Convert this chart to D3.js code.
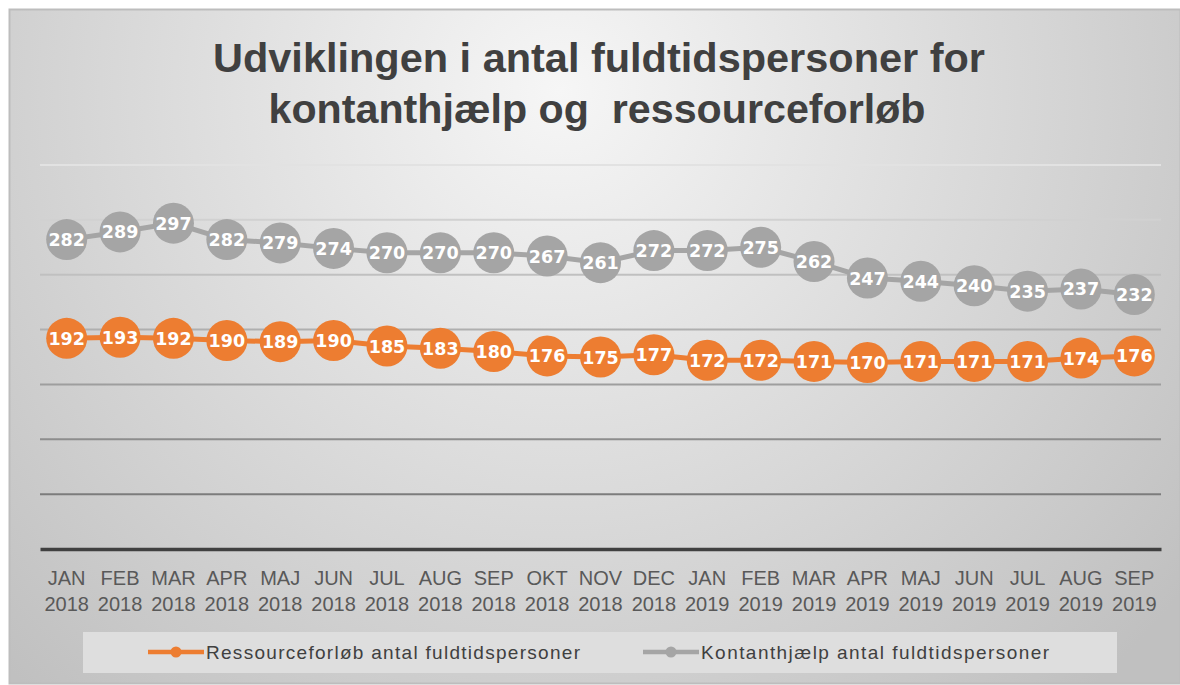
<!DOCTYPE html>
<html>
<head>
<meta charset="utf-8">
<script src="https://cdn.jsdelivr.net/npm/d3@7"></script>
<style>
  body { margin: 0; background: #fff; }
  text { white-space: pre; }
</style>
</head>
<body>
<div id="chart"></div>
<script>
// data
var months = ["JAN","FEB","MAR","APR","MAJ","JUN","JUL","AUG","SEP","OKT","NOV","DEC",
              "JAN","FEB","MAR","APR","MAJ","JUN","JUL","AUG","SEP"];
var years = ["2018","2018","2018","2018","2018","2018","2018","2018","2018","2018","2018","2018",
             "2019","2019","2019","2019","2019","2019","2019","2019","2019"];
var ressource = [192,193,192,190,189,190,185,183,180,176,175,177,172,172,171,170,171,171,171,174,176];
var kontant = [282,289,297,282,279,274,270,270,270,267,261,272,272,275,262,247,244,240,235,237,232];
var yTicks = [50,100,150,200,250,300,350];
var seriesNames = ["Ressourceforløb antal fuldtidspersoner", "Kontanthjælp antal fuldtidspersoner"];
var seriesColors = ["#ED7D31", "#A5A5A5"];

var svgWidth = 1180, svgHeight = 685;

var svg = d3.select("#chart").append("svg")
  .attr("width", svgWidth)
  .attr("height", svgHeight);

var defs = svg.append("defs");
var bg = defs.append("radialGradient")
  .attr("id", "bg")
  .attr("gradientUnits", "userSpaceOnUse")
  .attr("cx", 560).attr("cy", 90).attr("r", 800);
bg.append("stop").attr("offset", "0%").attr("stop-color", "#f6f6f6");
bg.append("stop").attr("offset", "100%").attr("stop-color", "#c0c0c0");

// chart frame
svg.append("rect")
  .attr("x", 9.5).attr("y", 9.5)
  .attr("width", svgWidth - 9).attr("height", svgHeight - 11)
  .attr("fill", "url(#bg)")
  .attr("stroke", "#bdbdbd")
  .attr("stroke-width", 2);

// title
var title = svg.append("text")
  .attr("text-anchor", "middle")
  .attr("font-family", "'Liberation Sans Narrow', 'Liberation Sans', sans-serif")
  .attr("font-weight", "bold")
  .attr("font-size", 41)
  .attr("fill", "#404040");
title.append("tspan").attr("x", 599).attr("y", 72)
  .attr("textLength", 772).attr("lengthAdjust", "spacingAndGlyphs")
  .text("Udviklingen i antal fuldtidspersoner for");
title.append("tspan").attr("x", 597).attr("y", 123)
  .attr("textLength", 657).attr("lengthAdjust", "spacingAndGlyphs")
  .text("kontanthjælp og  ressourceforløb");

// scales
var x = d3.scaleBand().domain(d3.range(months.length)).range([40, 1161]);
var cx = i => x(i) + x.bandwidth() / 2;
var y = d3.scaleLinear().domain([0, 350]).range([549, 165]);

// gridlines, getting darker towards the bottom
var gridColor = d3.scaleLinear().domain([350, 50]).range(["#e2e2e2", "#7c7c7c"]);
svg.append("g").selectAll("line")
  .data(yTicks)
  .enter().append("line")
  .attr("x1", 40).attr("x2", 1161)
  .attr("y1", d => y(d)).attr("y2", d => y(d))
  .attr("stroke", d => gridColor(d))
  .attr("stroke-width", 2);

// x axis
var xAxis = svg.append("g")
  .attr("transform", `translate(0, ${y(0)})`)
  .call(d3.axisBottom(x).tickSize(0).tickFormat(""));
xAxis.select(".domain").attr("stroke", "#404040").attr("stroke-width", 3.5);

var xLabels = svg.append("g").selectAll("text")
  .data(months)
  .enter().append("text")
  .attr("text-anchor", "middle")
  .attr("font-family", "'Liberation Sans', Arial, sans-serif")
  .attr("font-size", 20)
  .attr("fill", "#595959");
xLabels.append("tspan").attr("x", (d, i) => cx(i)).attr("y", 585).text(d => d);
xLabels.append("tspan").attr("x", (d, i) => cx(i)).attr("y", 611).text((d, i) => years[i]);

// series
function drawSeries(values, color) {
  var line = d3.line().x((d, i) => cx(i)).y(d => y(d));
  var g = svg.append("g");
  g.append("path")
    .datum(values)
    .attr("d", line)
    .attr("fill", "none")
    .attr("stroke", color)
    .attr("stroke-width", 5);
  g.selectAll("circle")
    .data(values)
    .enter().append("circle")
    .attr("cx", (d, i) => cx(i))
    .attr("cy", d => y(d))
    .attr("r", 20.5)
    .attr("fill", color);
  g.selectAll("text")
    .data(values)
    .enter().append("text")
    .attr("x", (d, i) => cx(i))
    .attr("y", d => y(d) + 6.5)
    .attr("text-anchor", "middle")
    .attr("font-family", "'DejaVu Sans', sans-serif")
    .attr("font-weight", "bold")
    .attr("font-size", 17.5)
    .attr("fill", "#ffffff")
    .text(d => d);
}
drawSeries(kontant, seriesColors[1]);
drawSeries(ressource, seriesColors[0]);

// legend
var legend = svg.append("g");
legend.append("rect")
  .attr("x", 83).attr("y", 632)
  .attr("width", 1034).attr("height", 41)
  .attr("fill", "#dedede");
var legendX = [148, 643];
var legendTextLen = [374, 348];
seriesNames.forEach(function(name, i) {
  var item = legend.append("g").attr("transform", `translate(${legendX[i]}, 652)`);
  item.append("line")
    .attr("x1", 0).attr("x2", 56)
    .attr("stroke", seriesColors[i])
    .attr("stroke-width", 4.5);
  item.append("circle")
    .attr("cx", 28).attr("r", 5.5)
    .attr("fill", seriesColors[i]);
  item.append("text")
    .attr("x", 58).attr("y", 7)
    .attr("font-family", "'Liberation Sans', Arial, sans-serif")
    .attr("font-size", 19)
    .attr("fill", "#404040")
    .attr("textLength", legendTextLen[i])
    .attr("lengthAdjust", "spacing")
    .text(name);
});
</script>
</body>
</html>
